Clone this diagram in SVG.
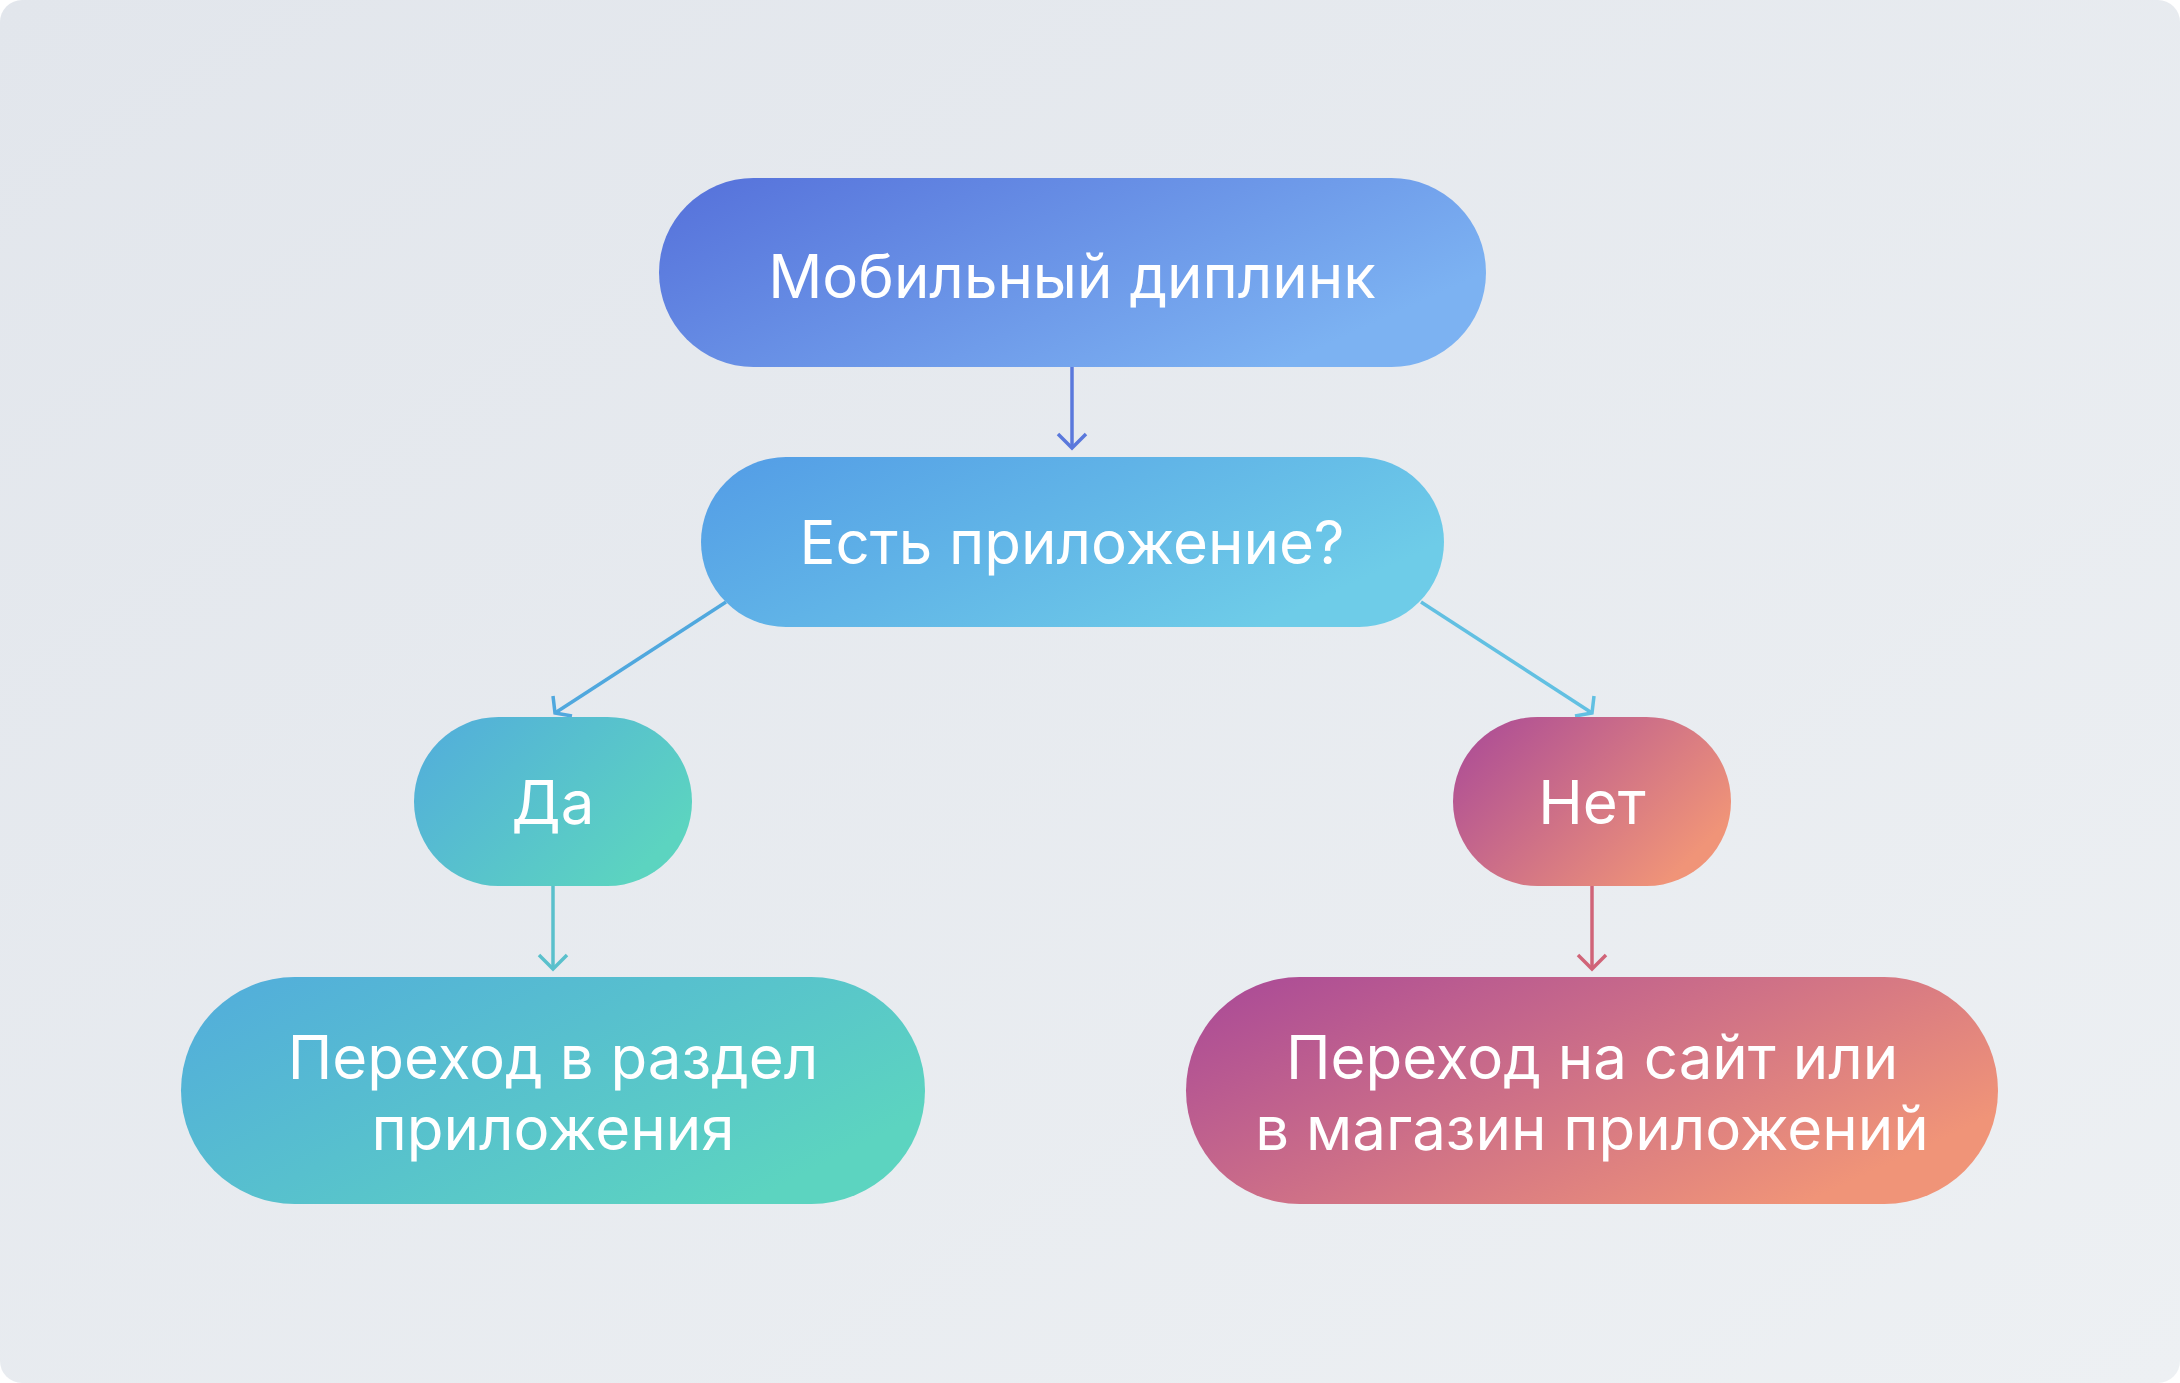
<svg xmlns="http://www.w3.org/2000/svg" width="2180" height="1383" viewBox="0 0 2180 1383">
<defs>
<linearGradient id="bg" x1="0" y1="0" x2="1" y2="1"><stop offset="0" stop-color="#e2e6ec"/><stop offset="1" stop-color="#edf0f3"/></linearGradient>
<linearGradient id="g1" x1="0" y1="0" x2="1" y2="0.5"><stop offset="0" stop-color="#5570da"/><stop offset="1" stop-color="#7cb2f2"/></linearGradient>
<linearGradient id="g2" x1="0" y1="0" x2="1" y2="0.5"><stop offset="0" stop-color="#539ce6"/><stop offset="1" stop-color="#6ecce8"/></linearGradient>
<linearGradient id="g3" x1="0" y1="0" x2="1" y2="0.6"><stop offset="0" stop-color="#52acdc"/><stop offset="1" stop-color="#5cd4c0"/></linearGradient>
<linearGradient id="g4" x1="0" y1="0" x2="1" y2="0.6"><stop offset="0" stop-color="#a84898"/><stop offset="1" stop-color="#f09478"/></linearGradient>
<style>
text{font-family:Inter,"Noto Sans",sans-serif;fill:#fff;text-anchor:middle;font-size:60px}
.c{fill:none;stroke-width:3.5}
</style>
</defs>
<rect width="2180" height="1383" rx="22" fill="url(#bg)"/>
<g id="connectors">
<path class="c" stroke="#5a78dc" d="M1072 367 V448"/>
<path class="c" stroke="#50a8de" d="M726 602 L555 713"/>
<path class="c" stroke="#62c0e2" d="M1421 602 L1592 713"/>
<path class="c" stroke="#5ac0cc" d="M553 886 V969"/>
<path class="c" stroke="#d06478" d="M1592 886 V969"/>
<path class="c" stroke="#5a78dc" d="M1058 434 L1072 448 L1086 434"/>
<path class="c" stroke="#50a8de" d="M553 696 L555 713 L572 716"/>
<path class="c" stroke="#62c0e2" d="M1575 716 L1592 713 L1594 696"/>
<path class="c" stroke="#5ac0cc" d="M539 955 L553 969 L567 955"/>
<path class="c" stroke="#d06478" d="M1578 955 L1592 969 L1606 955"/>
</g>
<g id="n1"><rect x="659" y="178" width="827" height="189" rx="94.5" fill="url(#g1)"/><text x="1072" y="298" font-size="70">Мобильный диплинк</text></g>
<g id="n2"><rect x="701" y="457" width="743" height="170" rx="85" fill="url(#g2)"/><text x="1072" y="564">Есть приложение?</text></g>
<g id="n3"><rect x="414" y="717" width="278" height="169" rx="84.5" fill="url(#g3)"/><text x="553" y="824">Да</text></g>
<g id="n4"><rect x="1453" y="717" width="278" height="169" rx="84.5" fill="url(#g4)"/><text x="1592" y="824">Нет</text></g>
<g id="n5"><rect x="181" y="977" width="744" height="227" rx="113.5" fill="url(#g3)"/><text x="553" y="1079">Переход в раздел</text><text x="553" y="1150">приложения</text></g>
<g id="n6"><rect x="1186" y="977" width="812" height="227" rx="113.5" fill="url(#g4)"/><text x="1592" y="1079">Переход на сайт или</text><text x="1592" y="1150">в магазин приложений</text></g>
</svg>
